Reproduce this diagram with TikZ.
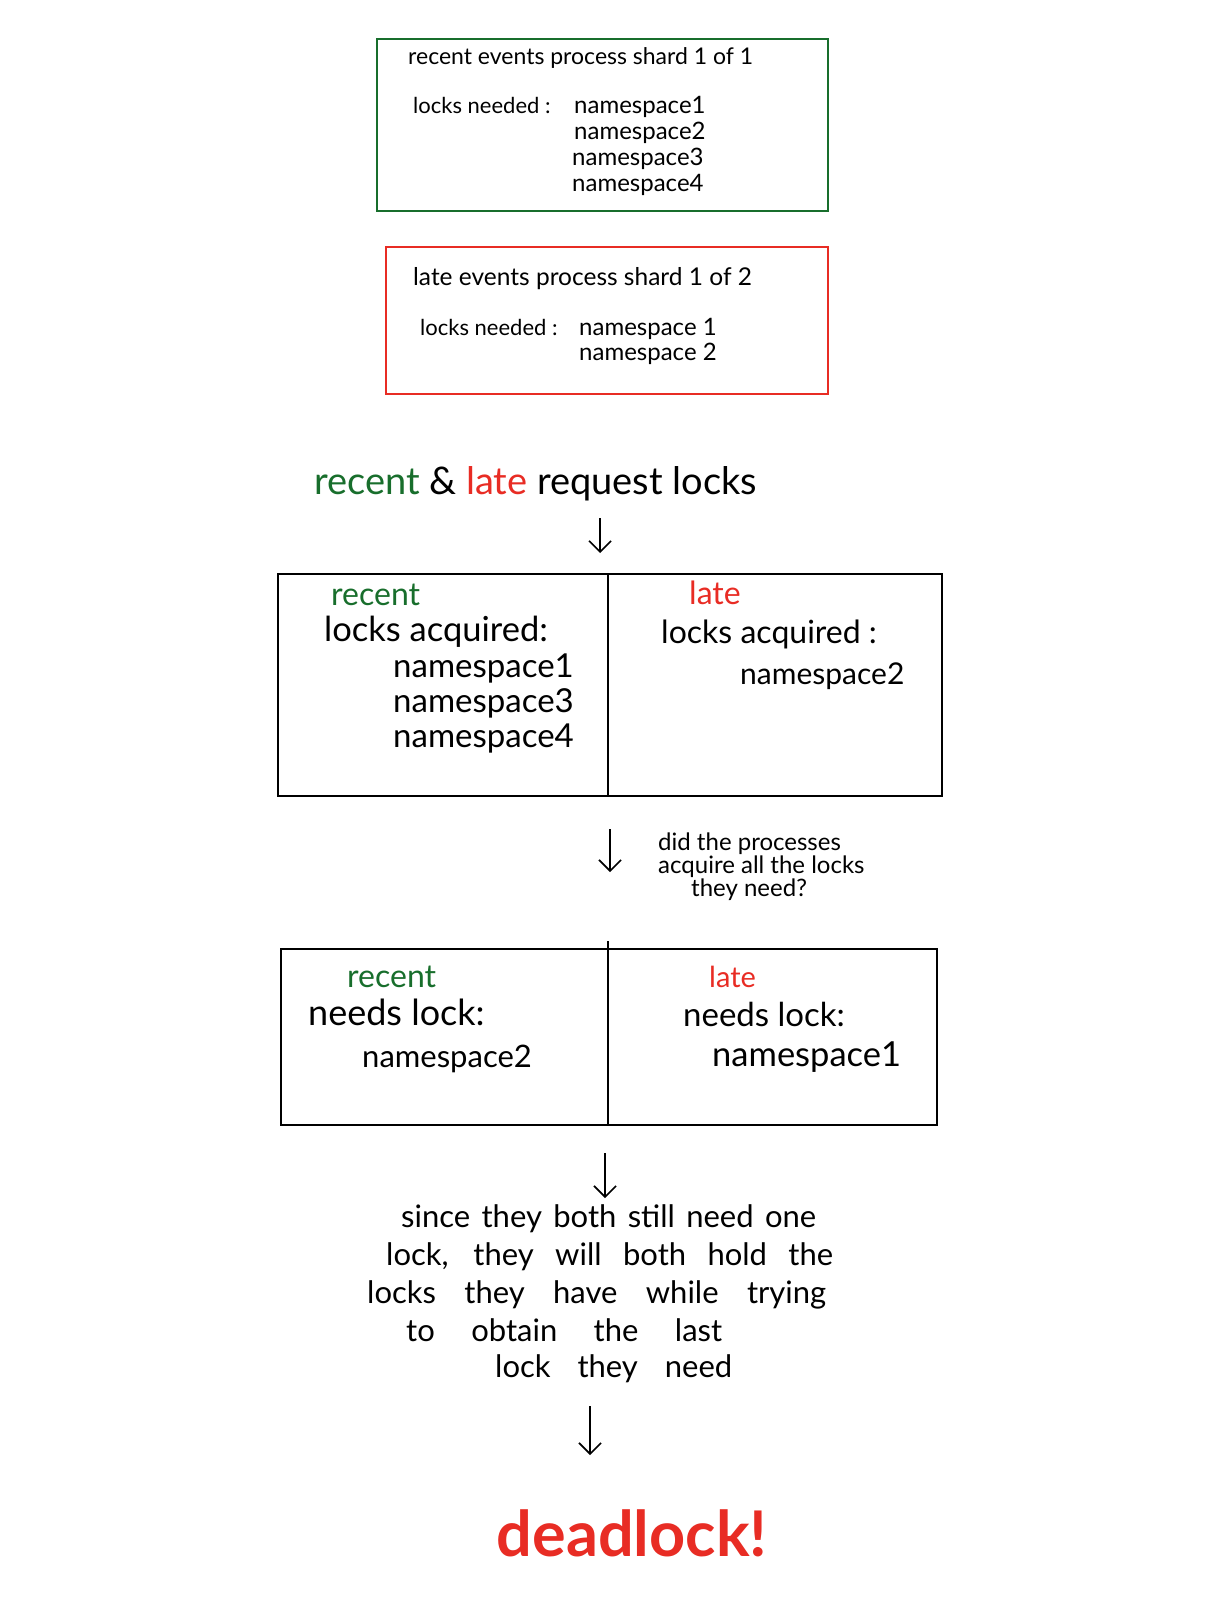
\documentclass[tikz,border=0pt]{standalone}
\usepackage{fontspec}
\setmainfont{Lato}
\usetikzlibrary{arrows.meta}
\definecolor{hgreen}{RGB}{24,110,44}
\definecolor{hred}{RGB}{232,44,36}
\tikzset{
  tx/.style={anchor=mid west, inner sep=0pt, font=\fontsize{#1}{#1}\selectfont},
  tc/.style={anchor=mid, inner sep=0pt, font=\fontsize{#1}{#1}\selectfont},
  box/.style={draw, line width=2pt},
  harrow/.style={line width=1.6pt, -{Straight Barb[length=11pt,width=22pt,line width=1.6pt]}},
}
\newcommand{\spread}[2]{\makebox[#1pt][s]{#2}}
\begin{document}
\begin{tikzpicture}[x=1pt,y=-1pt]
\useasboundingbox (0,0) rectangle (1219,1600);
% box 1
\node[box, draw=hgreen, minimum width=451pt, minimum height=172pt, anchor=north west] (b1) at (376,38) {};
\node[tx=23] (b1t) at (408,62) {recent events process shard 1 of 1};
\node[tx=22] (b1l) at (413,111) {locks needed :};
\node[tx=24] (b1n1) at (574,111) {namespace1};
\node[tx=24] (b1n2) at (574,137) {namespace2};
\node[tx=24] (b1n3) at (572,163) {namespace3};
\node[tx=24] (b1n4) at (572,189) {namespace4};
% box 2
\node[box, draw=hred, minimum width=442pt, minimum height=147pt, anchor=north west] (b2) at (385,246) {};
\node[tx=24.5] (b2t) at (413,283) {late events process shard 1 of 2};
\node[tx=22] (b2l) at (420,333) {locks needed :};
\node[tx=24] (b2n1) at (579,333) {namespace 1};
\node[tx=24] (b2n2) at (579,358) {namespace 2};
% title
\node[tx=38] (title) at (314,492) {\textcolor{hgreen}{recent} \& \textcolor{hred}{late} request locks};
\coordinate (a1s) at (600,518);
\coordinate (a1e) at (600,553);
\draw[harrow] (a1s) -- (a1e);
% box 3
\node[box, minimum width=664pt, minimum height=222pt, anchor=north west] (b3) at (277,573) {};
\draw[line width=2pt] (b3.north -| 608,0) -- (b3.south -| 608,0);
\node[tx=32, text=hgreen] (b3rr) at (331,603) {recent};
\node[tx=34.5] (b3rl) at (324,639) {locks acquired:};
\node[tx=33] (b3r1) at (393,675) {namespace1};
\node[tx=33] (b3r3) at (393,710) {namespace3};
\node[tx=33] (b3r4) at (393,745) {namespace4};
\node[tx=32, text=hred] (b3ll) at (689,602) {late};
\node[tx=32] (b3la) at (661,641) {locks acquired :};
\node[tx=30] (b3l2) at (740,682) {namespace2};
% arrow 2 + question
\coordinate (a2s) at (610,829);
\coordinate (a2e) at (610,872);
\draw[harrow] (a2s) -- (a2e);
\node[tx=24] (q1) at (658,848) {did the processes};
\node[tx=24] (q2) at (658,871) {acquire all the locks};
\node[tx=24] (q3) at (691,894) {they need?};
% box 4
\node[box, minimum width=656pt, minimum height=176pt, anchor=north west] (b4) at (280,948) {};
\coordinate (d4t) at (608,941);
\coordinate (d4b) at (608,1124);
\draw[line width=2pt] (d4t) -- (d4b);
\node[tx=32, text=hgreen] (b4rr) at (347,985) {recent};
\node[tx=36] (b4rn) at (308,1023) {needs lock:};
\node[tx=31] (b4r2) at (362,1065) {namespace2};
\node[tx=29, text=hred] (b4ll) at (709,985) {late};
\node[tx=33] (b4ln) at (683,1024) {needs lock:};
\node[tx=34.5] (b4l1) at (712,1064) {namespace1};
% arrow 3 + paragraph
\coordinate (a3s) at (605,1153);
\coordinate (a3e) at (605,1198);
\draw[harrow] (a3s) -- (a3e);
\node[tx=31] (p1) at (401,1225) {\spread{415}{since they both still need one}};
\node[tx=31] (p2) at (386,1263) {\spread{447}{lock, they will both hold the}};
\node[tx=31] (p3) at (367,1301) {\spread{459}{locks they have while trying}};
\node[tx=31] (p4) at (406,1339) {\spread{316}{to obtain the last}};
\node[tx=31] (p5) at (495,1375) {\spread{237}{lock they need}};
\coordinate (a4s) at (590,1406);
\coordinate (a4e) at (590,1455);
\draw[harrow] (a4s) -- (a4e);
\node[tc=63, text=hred, font=\fontsize{63}{63}\bfseries\selectfont] (dl) at (632,1554) {deadlock!};
\end{tikzpicture}
\end{document}
